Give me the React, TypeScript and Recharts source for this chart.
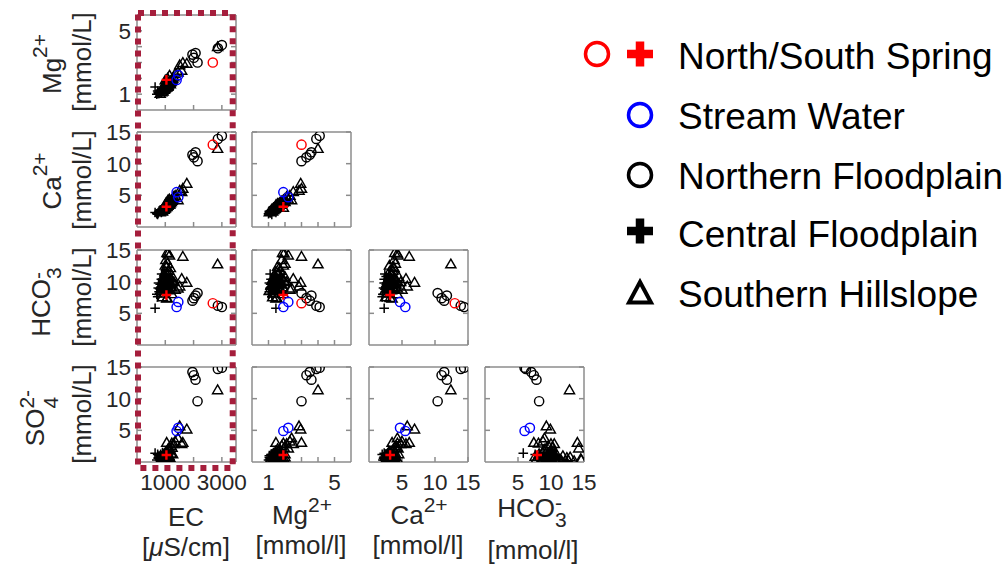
import React from 'react';
import { ScatterChart, Scatter, XAxis, YAxis } from 'recharts';

// Each sample: [EC (µS/cm), Mg2+, Ca2+, HCO3-, SO4 2- (mmol/L)]; null = not measured
type Sample = (number | null)[];

const northSpring: Sample[] = [[2680, 3.0, 13.0, 6.6, null]];
const southSpring: Sample[] = [[1040, 1.9, 3.2, 7.9, 1.1]];
const streamWater: Sample[] = [
  [1460, 2.2, 4.7, 6.8, 5.4],
  [1400, 1.9, 5.5, 6.0, 4.9],
];
const northernFloodplain: Sample[] = [
  [2140, 3.0, 10.4, 8.2, 9.6],
  [1960, 3.5, 11.4, 7.0, 14.2],
  [2070, 3.6, 11.8, 7.8, 13.0],
  [2010, 3.3, 11.0, 7.4, 13.7],
  [2860, 3.9, 13.9, 6.2, 14.7],
  [3000, 4.1, 14.4, 6.0, 14.9],
];
const centralFloodplain: Sample[] = [
  [640, 1.45, 2.3, 5.8, 1.4],
  [700, 1.0, 2.1, 8.0, 0.3],
  [750, 1.1, 2.2, 9.0, 0.6],
  [780, 1.05, 2.5, 8.4, 1.0],
  [820, 1.2, 2.7, 9.6, 0.2],
  [860, 1.15, 2.3, 10.4, 0.8],
  [900, 1.3, 2.9, 8.8, 1.5],
  [940, 1.25, 3.0, 9.9, 0.4],
  [960, 1.4, 2.6, 10.8, 1.1],
  [1000, 1.35, 3.2, 9.2, 0.1],
  [1040, 1.5, 3.4, 8.6, 0.7],
  [1080, 1.45, 3.0, 10.1, 1.9],
  [1120, 1.6, 3.6, 9.4, 0.5],
  [870, 1.1, 2.4, 11.2, 0.3],
  [730, 1.2, 2.0, 7.6, 1.2],
  [1150, 1.55, 3.8, 8.2, 1.3],
  [800, 1.1, 2.5, 8.9, 0.4],
  [840, 1.15, 2.6, 9.1, 1.2],
  [920, 1.3, 2.8, 9.5, 0.9],
  [980, 1.35, 3.0, 8.5, 0.5],
  [1010, 1.4, 3.1, 9.9, 1.6],
  [1060, 1.5, 3.3, 9.0, 0.2],
  [760, 1.05, 2.3, 9.8, 0.7],
];
const southernHillslope: Sample[] = [
  [2850, 4.0, 12.4, 12.8, 11.4],
  [1510, 2.85, 5.8, 9.3, 5.7],
  [1760, 2.95, 6.9, 9.9, 5.2],
  [1580, 2.5, 5.6, 10.5, 2.9],
  [1450, 2.4, 4.3, 9.0, 3.8],
  [1100, 1.95, 4.3, 14.5, 0.5],
  [1620, 3.0, 6.1, 14.0, 3.1],
  [1000, 1.9, 3.1, 12.6, 0.3],
  [1080, 2.0, 4.0, 12.9, 0.8],
  [1150, 2.2, 4.4, 14.2, 2.2],
  [1020, 1.8, 3.8, 13.5, 0.2],
  [1120, 1.7, 3.6, 11.8, 1.0],
  [980, 1.6, 3.4, 11.2, 0.4],
  [1060, 1.85, 3.9, 14.6, 0.4],
  [820, 1.05, 2.4, 8.6, 0.2],
  [880, 1.15, 2.6, 9.4, 0.5],
  [920, 1.2, 2.8, 10.2, 0.1],
  [950, 1.3, 2.9, 8.9, 0.8],
  [980, 1.35, 3.1, 10.9, 0.3],
  [1000, 1.4, 3.0, 9.8, 1.2],
  [1020, 1.5, 3.3, 10.6, 0.6],
  [1050, 1.45, 3.5, 7.4, 3.1],
  [1080, 1.6, 3.4, 11.4, 0.4],
  [1100, 1.55, 3.7, 9.1, 2.1],
  [1130, 1.7, 3.9, 10.4, 1.0],
  [1160, 1.75, 3.6, 9.7, 0.7],
  [1200, 1.8, 4.1, 9.6, 2.6],
  [1230, 1.9, 4.3, 8.1, 3.0],
  [1260, 2.0, 4.5, 10.8, 1.3],
  [1300, 2.1, 4.8, 10.0, 2.9],
  [1350, 2.3, 5.0, 8.8, 3.3],
  [900, 1.25, 2.5, 7.6, 0.9],
  [1060, 1.5, 3.2, 7.5, 0.0],
  [1180, 1.65, 3.8, 12.2, 0.2],
  [900, 1.3, 2.7, 9.8, 0.6],
  [940, 1.35, 2.9, 10.5, 1.0],
  [970, 1.4, 3.0, 9.2, 0.4],
  [1010, 1.45, 3.2, 10.0, 1.5],
  [1040, 1.55, 3.3, 9.5, 0.9],
  [1070, 1.6, 3.5, 10.3, 1.7],
  [1090, 1.5, 3.4, 8.7, 0.3],
  [1110, 1.65, 3.6, 9.9, 1.1],
  [1140, 1.7, 3.7, 8.9, 1.9],
  [1170, 1.8, 3.9, 10.6, 0.5],
  [1210, 1.85, 4.0, 9.2, 1.4],
  [1240, 1.95, 4.2, 10.2, 2.3],
  [990, 1.45, 3.1, 11.6, 0.2],
  [1050, 1.55, 3.6, 12.4, 0.7],
  [960, 1.3, 2.8, 8.2, 1.3],
];

// Axis definitions per variable (EC, Mg, Ca, HCO3, SO4)
const ecDomain: [number, number] = [0, 3500];
const mgDomain: [number, number] = [0, 6];
const concDomain: [number, number] = [0, 15];
const ecTicks = [1000, 2000, 3000];
const ecTickLabels = [1000, 3000];
const mgTicks = [1, 2, 3, 4, 5];
const mgTickLabels = [1, 5];
const concTicks = [5, 10, 15];
const concTickLabels = [5, 10, 15];

const legendLabels = [
  'North/South Spring',
  'Stream Water',
  'Northern Floodplain',
  'Central Floodplain',
  'Southern Hillslope',
];

const domains = [ecDomain, mgDomain, concDomain, concDomain, concDomain];
const ticksFor = [ecTicks, mgTicks, concTicks, concTicks, concTicks];
const labelsFor = [ecTickLabels, mgTickLabels, concTickLabels, concTickLabels, concTickLabels];

// Layout
const FONT = "'Liberation Sans', Arial, Helvetica, sans-serif";
const TXT = '#262626';
const BOX = '#8c8c8c';
const RED = '#ff0000';
const BLUE = '#0000ff';
const colX = [137, 252, 369, 485];
const rowY = [15, 132, 250, 367];
const PW = 99;
const PH = 95;
const M = { top: 15, right: 28, bottom: 46, left: 60 };
// axes occupy 1px each, so margins are reduced by 1 to keep the plot box in place
const MM = { top: M.top - 1, right: M.right - 1, bottom: M.bottom - 1, left: M.left - 1 };
const TICK_FONT = 22.5;

type Kind = 'circle' | 'plus' | 'triangle';

const markerShape = (kind: Kind, color: string, sw: number) => (p: any) => {
  const { cx, cy } = p;
  if (cx == null || cy == null || isNaN(cx) || isNaN(cy)) return <g />;
  if (kind === 'circle') {
    return <circle cx={cx} cy={cy} r={4.6} fill="none" stroke={color} strokeWidth={sw} />;
  }
  if (kind === 'plus') {
    const s = 4.8;
    return (
      <path
        d={`M${cx - s},${cy}H${cx + s}M${cx},${cy - s}V${cy + s}`}
        stroke={color}
        strokeWidth={sw}
        fill="none"
      />
    );
  }
  const h = 4.6;
  return (
    <path
      d={`M${cx},${cy - h * 1.05}L${cx + h * 1.1},${cy + h * 0.85}L${cx - h * 1.1},${cy + h * 0.85}Z`}
      fill="none"
      stroke={color}
      strokeWidth={sw}
      strokeLinejoin="miter"
    />
  );
};

const series = [
  { name: 'Southern Hillslope', rows: southernHillslope, shape: markerShape('triangle', '#000', 1.45) },
  { name: 'Central Floodplain', rows: centralFloodplain, shape: markerShape('plus', '#000', 1.5) },
  { name: 'Northern Floodplain', rows: northernFloodplain, shape: markerShape('circle', '#000', 1.45) },
  { name: 'Stream Water', rows: streamWater, shape: markerShape('circle', BLUE, 1.45) },
  { name: 'North Spring', rows: northSpring, shape: markerShape('circle', RED, 1.45) },
  { name: 'South Spring', rows: southSpring, shape: markerShape('plus', RED, 2.4) },
];

const toPoints = (rows: Sample[], xi: number, yi: number) =>
  rows
    .filter((s) => s[xi] != null && s[yi] != null)
    .map((s) => ({ x: s[xi] as number, y: s[yi] as number }));

const noTick = () => <g />;

const makeXTick = (labels: number[]) => (p: any) =>
  labels.includes(p.payload.value) ? (
    <text x={p.x} y={p.y + 27.5} textAnchor="middle" fontSize={TICK_FONT} fontFamily={FONT} fill={TXT}>
      {p.payload.value}
    </text>
  ) : (
    <g />
  );

const makeYTick = (labels: number[]) => (p: any) =>
  labels.includes(p.payload.value) ? (
    <text x={p.x - 6} y={p.y + 8} textAnchor="end" fontSize={TICK_FONT} fontFamily={FONT} fill={TXT}>
      {p.payload.value}
    </text>
  ) : (
    <g />
  );

const lineStyle = { stroke: BOX, strokeWidth: 1.5 };

function Panel({ r, c }: { r: number; c: number }) {
  const xi = c;
  const yi = r + 1;
  const W = PW + M.left + M.right;
  const H = PH + M.top + M.bottom;
  const xLab = r === 3 ? labelsFor[xi] : [];
  const yLab = c === 0 ? labelsFor[yi] : [];
  return (
    <div style={{ position: 'absolute', left: colX[c] - M.left, top: rowY[r] - M.top, width: W, height: H }}>
      <ScatterChart width={W} height={H} margin={MM}>
        <XAxis
          xAxisId="b"
          type="number"
          dataKey="x"
          orientation="bottom"
          domain={domains[xi]}
          ticks={ticksFor[xi]}
          allowDataOverflow
          height={1}
          interval={0}
          tickSize={-5}
          tickMargin={5}
          axisLine={lineStyle}
          tickLine={lineStyle}
          tick={makeXTick(xLab)}
        />
        <XAxis
          xAxisId="t"
          type="number"
          orientation="top"
          domain={domains[xi]}
          ticks={ticksFor[xi]}
          allowDataOverflow
          height={1}
          interval={0}
          tickSize={-5}
          axisLine={lineStyle}
          tickLine={lineStyle}
          tick={noTick}
        />
        <YAxis
          yAxisId="l"
          type="number"
          dataKey="y"
          orientation="left"
          domain={domains[yi]}
          ticks={ticksFor[yi]}
          allowDataOverflow
          width={1}
          interval={0}
          tickSize={-5}
          tickMargin={5}
          axisLine={lineStyle}
          tickLine={lineStyle}
          tick={makeYTick(yLab)}
        />
        <YAxis
          yAxisId="r"
          type="number"
          orientation="right"
          domain={domains[yi]}
          ticks={ticksFor[yi]}
          allowDataOverflow
          width={1}
          interval={0}
          tickSize={-5}
          axisLine={lineStyle}
          tickLine={lineStyle}
          tick={noTick}
        />
        {series.map((s) => (
          <Scatter
            key={s.name}
            name={s.name}
            xAxisId="b"
            yAxisId="l"
            data={toPoints(s.rows, xi, yi)}
            shape={s.shape}
            isAnimationActive={false}
          />
        ))}
      </ScatterChart>
    </div>
  );
}

const LAB = 26;
const SUB = 21;
const SUBW = 11.7; // advance of one digit at SUB size

function Plus({ cx, cy, color }: { cx: number; cy: number; color: string }) {
  return (
    <path d={`M${cx - 13},${cy}H${cx + 13}M${cx},${cy - 12.5}V${cy + 12.5}`} stroke={color} strokeWidth={8.5} fill="none" />
  );
}

function Overlay() {
  const rot = (x: number, y: number) => `translate(${x},${y}) rotate(-90)`;
  const legendY = [69, 129, 189, 247, 307];
  return (
    <svg width={1005} height={564} style={{ position: 'absolute', left: 0, top: 0, pointerEvents: 'none' }}>
      <g fontFamily={FONT} fill={TXT} fontSize={LAB}>
        {/* Row labels */}
        <text transform={rot(61, 64)} textAnchor="middle">
          <tspan>Mg</tspan>
          <tspan dy={-14} fontSize={SUB}>2+</tspan>
        </text>
        <text transform={rot(91, 62)} textAnchor="middle">[mmol/L]</text>

        <text transform={rot(61, 181)} textAnchor="middle">
          <tspan>Ca</tspan>
          <tspan dy={-14} fontSize={SUB}>2+</tspan>
        </text>
        <text transform={rot(91, 180)} textAnchor="middle">[mmol/L]</text>

        <text transform={rot(50, 302)} textAnchor="middle">
          <tspan>HCO</tspan>
          <tspan dy={11} fontSize={SUB}>3</tspan>
          <tspan dx={-SUBW} dy={-16} fontSize={SUB}>-</tspan>
        </text>
        <text transform={rot(91, 297)} textAnchor="middle">[mmol/L]</text>

        <text transform={rot(44, 418)} textAnchor="middle">
          <tspan>SO</tspan>
          <tspan dy={14} fontSize={SUB}>4</tspan>
          <tspan dx={-SUBW} dy={-24} fontSize={SUB}>2-</tspan>
        </text>
        <text transform={rot(91, 414)} textAnchor="middle">[mmol/L]</text>

        {/* Column labels */}
        <text x={186} y={526} textAnchor="middle">EC</text>
        <text x={186} y={556} textAnchor="middle">
          [<tspan fontStyle="italic">μ</tspan>S/cm]
        </text>

        <text x={302} y={524} textAnchor="middle">
          <tspan>Mg</tspan>
          <tspan dy={-12} fontSize={SUB}>2+</tspan>
        </text>
        <text x={301} y={554} textAnchor="middle">[mmol/l]</text>

        <text x={419} y={524} textAnchor="middle">
          <tspan>Ca</tspan>
          <tspan dy={-12} fontSize={SUB}>2+</tspan>
        </text>
        <text x={418} y={554} textAnchor="middle">[mmol/l]</text>

        <text x={532} y={517} textAnchor="middle">
          <tspan>HCO</tspan>
          <tspan dy={10} fontSize={SUB}>3</tspan>
          <tspan dx={-SUBW} dy={-17} fontSize={SUB}>-</tspan>
        </text>
        <text x={533} y={559} textAnchor="middle">[mmol/l]</text>
      </g>

      {/* Highlight of the EC column */}
      <rect x={138} y={13} width={94.7} height={455} fill="none" stroke="#A51E3C" strokeWidth={6} strokeDasharray="6 6" />

      {/* Legend */}
      <g>
        <circle cx={597} cy={54} r={11.5} fill="none" stroke={RED} strokeWidth={3.5} />
        <Plus cx={640} cy={54} color={RED} />
        <circle cx={640} cy={115} r={11.5} fill="none" stroke={BLUE} strokeWidth={3.5} />
        <circle cx={640} cy={175} r={11.5} fill="none" stroke="#000" strokeWidth={3.5} />
        <Plus cx={640} cy={231} color="#000" />
        <path d="M640,282 L651,302.5 L629,302.5 Z" fill="none" stroke="#000" strokeWidth={4} strokeLinejoin="miter" />
        {legendLabels.map((t, i) => (
          <text key={t} x={678} y={legendY[i]} fontFamily={FONT} fontSize={37} fill="#000">
            {t}
          </text>
        ))}
      </g>
    </svg>
  );
}

export default function App() {
  const panels: React.ReactNode[] = [];
  for (let r = 0; r < 4; r++) {
    for (let c = 0; c <= r; c++) {
      panels.push(<Panel key={`${r}-${c}`} r={r} c={c} />);
    }
  }
  return (
    <div style={{ position: 'absolute', left: 0, top: 0, width: 1005, height: 564, background: '#fff', overflow: 'hidden' }}>
      {panels}
      <Overlay />
    </div>
  );
}
